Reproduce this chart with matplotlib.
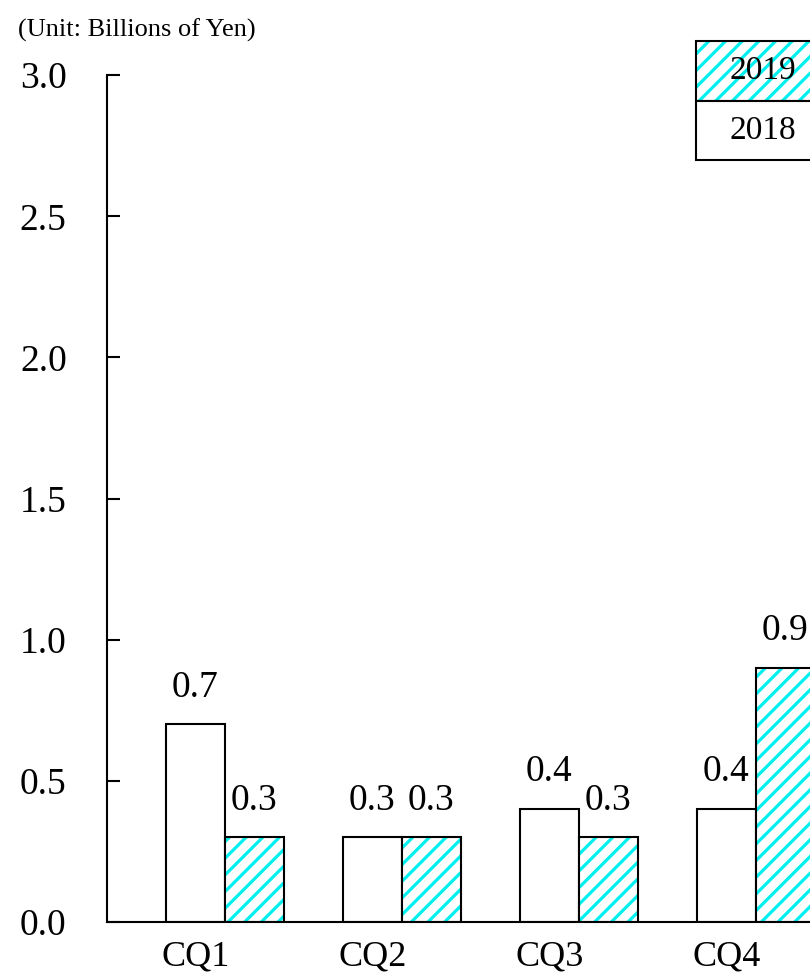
import matplotlib
matplotlib.use("Agg")
import matplotlib.pyplot as plt
from matplotlib.patches import Rectangle

# data
categories = ["CQ1", "CQ2", "CQ3", "CQ4"]
values_2018 = [0.7, 0.3, 0.4, 0.4]
values_2019 = [0.3, 0.3, 0.3, 0.9]
y_ticks = [0.0, 0.5, 1.0, 1.5, 2.0, 2.5, 3.0]

# settings
plt.rcParams["font.family"] = ["Liberation Serif", "DejaVu Serif"]
plt.rcParams["hatch.linewidth"] = 2.3
plt.rcParams["axes.linewidth"] = 1.5

fig = plt.figure(figsize=(8.1, 9.76), dpi=100)
ax = fig.add_axes([0.132, 0.0553, 0.983, 0.8677])

x = list(range(len(categories)))
width = 0.333
x19 = [i + width for i in x]

# 2018 plain bars
ax.bar(x, values_2018, width, color="white", edgecolor="black", linewidth=1.5)

# 2019 hatched bars: cyan hatch first, then black outline
ax.bar(x19, values_2019, width, color="white", edgecolor="#00f0f0",
       hatch="//", linewidth=0)
ax.bar(x19, values_2019, width, fill=False, edgecolor="black", linewidth=1.5)

# value labels
for xi, v in zip(x, values_2018):
    ax.text(xi, v + 0.07, f"{v:.1f}", ha="center", va="bottom", fontsize=27)
for xi, v in zip(x19, values_2019):
    ax.text(xi, v + 0.07, f"{v:.1f}", ha="center", va="bottom", fontsize=27)

ax.set_xlim(-0.5, 4.0)
ax.set_ylim(0, 3.0)
ax.set_yticks(y_ticks)
ax.set_yticklabels([f"{t:.1f}" for t in y_ticks])
ax.set_xticks(x)
ax.set_xticklabels(categories)

ax.tick_params(axis="y", direction="in", length=9, width=1.5, pad=29,
               labelsize=27)
ax.tick_params(axis="x", length=0, pad=13, labelsize=26)

ax.spines["top"].set_visible(False)
ax.spines["right"].set_visible(False)

# unit label
fig.text(0.022, 0.969, "(Unit: Billions of Yen)", fontsize=19,
         ha="left", va="center")

# custom legend box
lx, lw = 0.859, 0.165
fig.add_artist(Rectangle((lx, 0.8965), lw, 0.0615, transform=fig.transFigure,
                         facecolor="white", edgecolor="#00f0f0", hatch="//",
                         linewidth=0))
fig.add_artist(Rectangle((lx, 0.8965), lw, 0.0615, transform=fig.transFigure,
                         fill=False, edgecolor="black", linewidth=1.5))
fig.add_artist(Rectangle((lx, 0.836), lw, 0.0605, transform=fig.transFigure,
                         facecolor="white", edgecolor="black", linewidth=1.5))
fig.text(0.942, 0.927, "2019", fontsize=24, ha="center", va="center")
fig.text(0.942, 0.866, "2018", fontsize=24, ha="center", va="center")

fig.savefig("out.png", dpi=100)
